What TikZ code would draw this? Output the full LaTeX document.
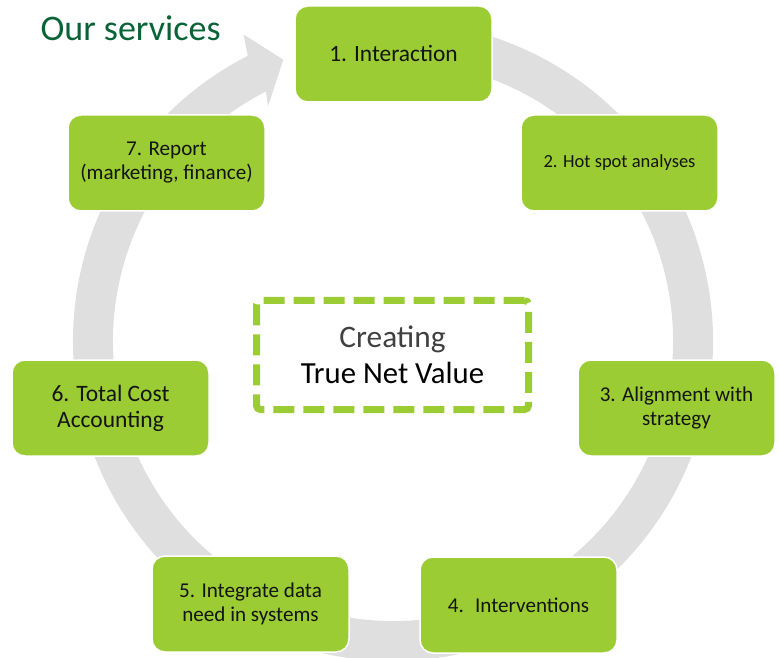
\documentclass[tikz,border=0pt]{standalone}
\usepackage{fontspec}
\setmainfont{Carlito}
\usepackage{tikz}
\usetikzlibrary{calc}
\usepackage{xcolor}

\definecolor{boxgreen}{RGB}{155,204,52}
\definecolor{titlegreen}{RGB}{10,98,55}
\definecolor{ringgray}{RGB}{223,223,223}
\definecolor{textdark}{RGB}{20,20,20}

\tikzset{
  svcbox/.style={rectangle, rounded corners=13pt, fill=boxgreen, draw=white,
    line width=1.5pt, minimum width=197pt, minimum height=96pt,
    align=center, text=textdark, inner sep=2pt},
  centrebox/.style={rectangle, rounded corners=4pt, draw=boxgreen, line width=7pt,
    dash pattern=on 21pt off 9pt, minimum width=272pt, minimum height=109pt,
    align=center}
}

\begin{document}
\begin{tikzpicture}[x=1pt, y=1pt]
\useasboundingbox (0,0) rectangle (779,657);
\coordinate (ctr) at (393,316);

% Cycle arrow behind the boxes
\fill[ringgray] ($(ctr)+(105:320)$) arc[start angle=105, end angle=-243, radius=320]
  -- ($(ctr)+(-244:341)$) -- ($(ctr)+(-248.7:302)$) -- ($(ctr)+(-242:266)$)
  -- ($(ctr)+(-243:280)$) arc[start angle=-243, end angle=105, radius=280] -- cycle;

% Title
\node[anchor=base west, text=titlegreen, font=\fontsize{36}{40}\selectfont] (title) at (37,616) {Our services};

% Service boxes around the cycle
\foreach \i/\x/\y/\txt/\fs/\ls in {1/393.5/603/{1. Interaction}/23.4/27,
                                   2/619.5/494/{2. Hot spot analyses}/18.5/22,
                                   3/676.5/249/{3. Alignment with\\strategy}/21.1/24,
                                   4/518.5/52/{4.~ Interventions}/21.1/24,
                                   5/250.5/53/{5. Integrate data\\need in systems}/21.1/24,
                                   6/110.5/249/{6. Total Cost\\Accounting}/23.5/26,
                                   7/166.5/494/{7. Report\\(marketing, finance)}/21.1/24} {
    \node[svcbox, font=\fontsize{\fs}{\ls}\selectfont] (s\i) at (\x,\y) {\txt};
}

% Centre message
\node[centrebox] (tnv) at (392.5,302) {{\color{black!75}\fontsize{31.3}{37}\selectfont Creating}\\[8pt]
  {\fontsize{30.7}{37}\selectfont True Net Value}};
\end{tikzpicture}
\end{document}
